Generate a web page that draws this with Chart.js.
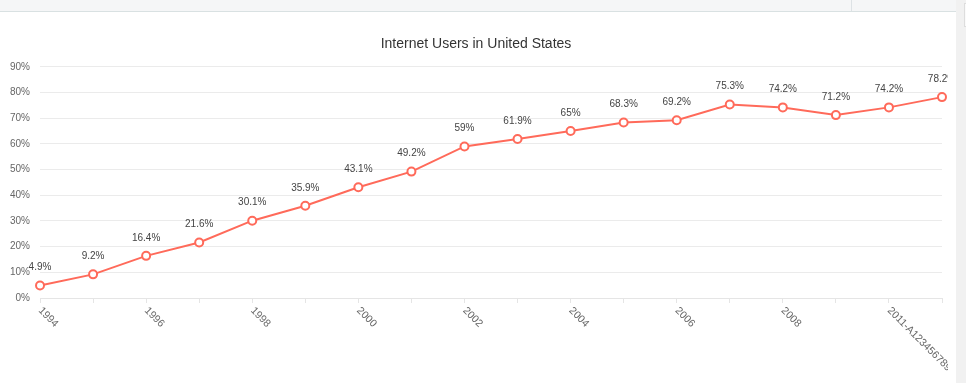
<!DOCTYPE html>
<html><head><meta charset="utf-8">
<script src="https://cdn.jsdelivr.net/npm/chart.js@4"></script>
<style>
html,body{margin:0;padding:0;background:#fff;overflow:hidden;width:966px;height:383px}
#top{position:absolute;left:0;top:0;width:956px;height:11px;background:#f5f6f7;border-bottom:1px solid #d9e1e2}
#divider{position:absolute;left:851px;top:0;width:1px;height:11px;background:#dde2e5}
#sb{position:absolute;left:956px;top:0;width:10px;height:383px;background:#f1f1f1}
#thumb{position:absolute;left:964px;top:3px;width:2px;height:22px;background:#fafafa;border:1px solid #ddd;border-right:none}
#wrap{position:absolute;left:0;top:12px;width:948px;height:371px}
</style></head><body>
<div id="top"></div><div id="divider"></div>
<div id="wrap"><canvas id="c"></canvas></div>
<div id="sb"></div><div id="thumb"></div>
<script>
const chartTitle = 'Internet Users in United States';
const years = ['1994','1995','1996','1997','1998','1999','2000','2001','2002','2003','2004','2005','2006','2007','2008','2009','2011-A123456789','2012'];
const users = [4.9, 9.2, 16.4, 21.6, 30.1, 35.9, 43.1, 49.2, 59, 61.9, 65, 68.3, 69.2, 75.3, 74.2, 71.2, 74.2, 78.2];
const yMax = 90;
const yStep = 10;

const FONT = "'Helvetica Neue', Helvetica, Arial, sans-serif";

const valueLabels = {
  id: 'valueLabels',
  afterDatasetsDraw(chart) {
    const ctx = chart.ctx;
    const meta = chart.getDatasetMeta(0);
    ctx.save();
    ctx.font = '10px ' + FONT;
    ctx.fillStyle = '#444';
    ctx.textAlign = 'center';
    ctx.textBaseline = 'middle';
    meta.data.forEach((pt, i) => {
      ctx.fillText(users[i] + '%', pt.x, pt.y - 18);
    });
    ctx.restore();
  }
};

const xLabels = {
  id: 'xLabels',
  afterDraw(chart) {
    const ctx = chart.ctx;
    const xs = chart.scales.x;
    ctx.save();
    ctx.font = '10.5px ' + FONT;
    ctx.fillStyle = '#666';
    ctx.textAlign = 'left';
    ctx.textBaseline = 'middle';
    years.forEach((lab, i) => {
      if (i % 2) return;
      const x = xs.getPixelForTick(i);
      ctx.save();
      ctx.translate(x, xs.top + 11);
      ctx.rotate(Math.PI / 4);
      ctx.fillText(lab, 0, 0);
      ctx.restore();
    });
    ctx.restore();
  }
};

const titleShift = {
  id: 'titleShift',
  afterLayout(chart) {
    const t = chart.titleBlock;
    if (t) { t.left += 5; t.right += 5; }
  }
};

new Chart(document.getElementById('c'), {
  type: 'line',
  data: {
    labels: years,
    datasets: [{
      label: 'Internet Users',
      data: users,
      borderColor: '#ff6a5a',
      backgroundColor: '#ffffff',
      pointBackgroundColor: '#ffffff',
      pointBorderColor: '#ff6a5a',
      pointBorderWidth: 2,
      pointRadius: 4,
      borderWidth: 2,
      tension: 0,
      fill: false
    }]
  },
  options: {
    responsive: true,
    maintainAspectRatio: false,
    animation: false,
    layout: { padding: { top: 14, left: 0, right: 6, bottom: 80 } },
    plugins: {
      legend: { display: false },
      tooltip: { enabled: false },
      title: {
        display: true,
        text: chartTitle,
        color: '#333',
        font: { size: 14, weight: 'normal', family: FONT },
        padding: { top: 10, bottom: 14 }
      }
    },
    scales: {
      x: {
        offset: false,
        grid: { drawOnChartArea: false, drawTicks: true, tickLength: 5, color: '#e5e5e5' },
        border: { display: true, color: '#e5e5e5' },
        ticks: { display: false }
      },
      y: {
        min: 0,
        max: yMax,
        grid: { color: '#ebebeb', drawTicks: false },
        border: { display: false },
        ticks: {
          stepSize: yStep,
          padding: 10,
          color: '#666',
          font: { size: 10, family: FONT },
          callback: v => v + '%'
        }
      }
    }
  },
  plugins: [valueLabels, xLabels, titleShift]
});
</script>
</body></html>
